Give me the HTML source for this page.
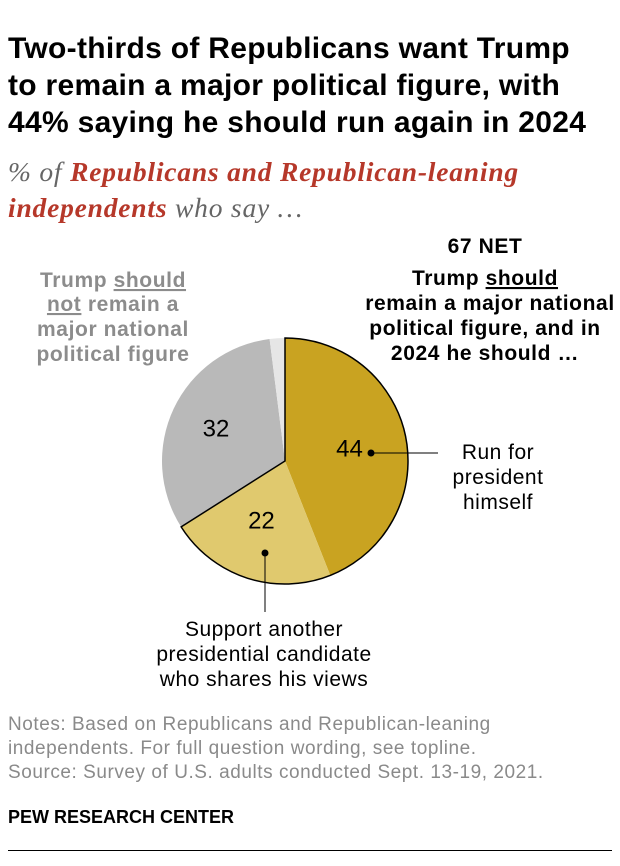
<!DOCTYPE html>
<html><head><meta charset="utf-8">
<style>
html,body{margin:0;padding:0;background:#fff;}
body{width:620px;height:866px;overflow:hidden;position:relative;font-family:"Liberation Sans",sans-serif;}
.t{position:absolute;left:8px;top:30px;font-size:30px;font-weight:bold;line-height:37px;color:#000;letter-spacing:0.3px;}
.sub{position:absolute;left:8px;top:154px;font-family:"Liberation Serif",serif;font-style:italic;font-size:27.5px;line-height:36px;color:#666;letter-spacing:0.8px;}
.sub b{color:#b6382a;}
.notes{position:absolute;left:8px;top:713px;font-size:19px;line-height:24px;color:#8a8a8a;letter-spacing:0.55px;}
.pew{position:absolute;left:8px;top:807px;font-size:18px;font-weight:bold;color:#000;}
.rule{position:absolute;left:8px;top:850px;width:604px;height:1px;background:#000;}
svg{position:absolute;left:0;top:0;}
.n{font-family:"Liberation Sans",sans-serif;font-weight:bold;font-size:21px;letter-spacing:0.6px;}
</style></head><body>
<div class="t">Two-thirds of Republicans want Trump<br>to remain a major political figure, with<br>44% saying he should run again in 2024</div>
<div class="sub">% of <b>Republicans and Republican-leaning<br>independents</b> who say …</div>
<svg width="620" height="866" id="chart">
<g id="slices"></g>
<text class="n" x="485" y="253" text-anchor="middle" font-size="22">67  NET</text>
<g class="n" text-anchor="middle" fill="#000">
<text x="485" y="285">Trump <tspan text-decoration="underline">should</tspan></text>
<text x="490" y="310">remain a major national</text>
<text x="485" y="335">political figure, and in</text>
<text x="485" y="360">2024 he should …</text>
</g>
<g class="n" text-anchor="middle" fill="#8c8c8c">
<text x="113" y="287">Trump <tspan text-decoration="underline">should</tspan></text>
<text x="113" y="311"><tspan text-decoration="underline">not</tspan> remain a</text>
<text x="113" y="336">major national</text>
<text x="113" y="361">political figure</text>
</g>
<g font-size="21" letter-spacing="0.5" text-anchor="middle" fill="#000">
<text x="498" y="459">Run for</text>
<text x="498" y="484">president</text>
<text x="498" y="509">himself</text>
<text x="264" y="636">Support another</text>
<text x="264" y="661">presidential candidate</text>
<text x="264" y="686">who shares his views</text>
</g>
<line x1="371" y1="453" x2="438" y2="453" stroke="#000" stroke-width="1"/>
<circle cx="371" cy="453" r="3.5"/>
<line x1="265" y1="553" x2="265" y2="612" stroke="#000" stroke-width="1"/>
<circle cx="265" cy="553" r="3.5"/>
</svg>
<div class="notes">Notes: Based on Republicans and Republican-leaning<br>independents. For full question wording, see topline.<br>Source: Survey of U.S. adults conducted Sept. 13-19, 2021.</div>
<div class="pew">PEW RESEARCH CENTER</div>
<div class="rule"></div>
<script>
const categories = ["Run for president himself","Support another candidate","Should not remain","No answer"];
const values = [44, 22, 32, 2];
const labels = ["44","22","32",""];
const colors = ["#c9a321","#e0c96e","#b9b9b9","#e6e6e6"];
const cx=285, cy=461, r=123;
const NS="http://www.w3.org/2000/svg";
const g=document.getElementById('slices');
const total=values.reduce((a,b)=>a+b,0);
function pt(frac,rad){const a=frac*2*Math.PI;return [cx+rad*Math.sin(a),cy-rad*Math.cos(a)];}
let acc=0;
const labelPos=[[0.55],[0.62],[0.62],[0]];
values.forEach((v,i)=>{
  const s=acc/total, e=(acc+v)/total; acc+=v;
  const p0=pt(s,r),p1=pt(e,r);
  const path=document.createElementNS(NS,'path');
  path.setAttribute('d',`M${cx},${cy}L${p0[0]},${p0[1]}A${r},${r} 0 ${e-s>0.5?1:0} 1 ${p1[0]},${p1[1]}Z`);
  path.setAttribute('fill',colors[i]);
  
  
  g.appendChild(path);
  if(labels[i]){
    const m=pt((s+e)/2,r*labelPos[i][0]);
    const t=document.createElementNS(NS,'text');
    t.setAttribute('x',i==0?m[0]-2:m[0]);t.setAttribute('y',m[1]+(i==1?-5:8));
    t.setAttribute('text-anchor','middle');t.setAttribute('font-size','24');
    t.textContent=labels[i];
    
    
    g.appendChild(t);
  }
});
const netE=(values[0]+values[1])/total;
const q0=pt(0,r),q1=pt(netE,r);
const ol=document.createElementNS(NS,'path');
ol.setAttribute('d',`M${cx},${cy}L${q0[0]},${q0[1]}A${r},${r} 0 ${netE>0.5?1:0} 1 ${q1[0]},${q1[1]}Z`);
ol.setAttribute('fill','none');ol.setAttribute('stroke','#000');ol.setAttribute('stroke-width','1.5');


g.appendChild(ol);
</script>
</body></html>
